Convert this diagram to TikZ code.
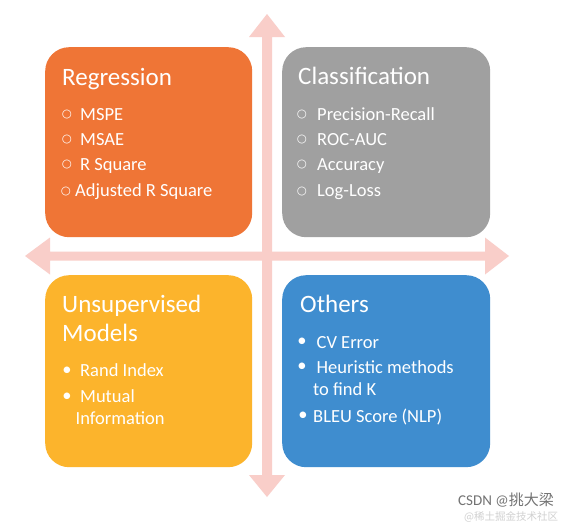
\documentclass[tikz,border=0pt]{standalone}
\usepackage{fontspec}
\setmainfont{Carlito}
\newfontfamily\symf{DejaVu Sans}
\newfontfamily\cjkf{Noto Sans CJK SC}
\definecolor{cOrange}{HTML}{EF7536}
\definecolor{cGray}{HTML}{A0A0A0}
\definecolor{cYellow}{HTML}{FCB42C}
\definecolor{cBlue}{HTML}{3F8DCF}
\definecolor{cPink}{HTML}{F9CEC9}
\begin{document}
\begin{tikzpicture}[x=1pt,y=-1pt,
  card/.style={rectangle, rounded corners=24pt, draw=none, anchor=north west,
               minimum width=207pt, minimum height=190pt, inner sep=0pt},
  ttl/.style={anchor=base west, text=white, font=\fontsize{25}{28}\selectfont, inner sep=0pt},
  itm/.style={anchor=base west, text=white, font=\fontsize{18.5}{22}\selectfont, inner sep=0pt},
  obul/.style={anchor=center, text=white, font=\symf\fontsize{11.5}{13}\selectfont, inner sep=0pt},
  dbul/.style={anchor=center, text=white, font=\fontsize{18.5}{22}\selectfont, inner sep=0pt},
  axis/.style={fill=cPink, draw=none}
]
\useasboundingbox (0,0) rectangle (573,522);
\fill[white] (0,0) rectangle (573,522);

% double arrows
\path[axis] (267,14) -- (285,37) -- (272,37) -- (272,475) -- (285,475) -- (267,497)
  -- (249,475) -- (262,475) -- (262,37) -- (249,37) -- cycle;
\path[axis] (25,256) -- (50,237.5) -- (50,251.5) -- (485,251.5) -- (485,237.5) -- (509,256)
  -- (485,274.5) -- (485,260.5) -- (50,260.5) -- (50,274.5) -- cycle;

% cards
\node[card, fill=cOrange] (reg) at (45,47) {};
\node[card, fill=cGray, minimum width=208pt] (cls) at (282,47) {};
\node[card, fill=cYellow, minimum height=192pt] (uns) at (45,275) {};
\node[card, fill=cBlue, minimum width=208pt, minimum height=192pt] (oth) at (282,275) {};

% Regression
\node[ttl] (regT) at (62,85) {Regression};
\node[obul] (rb1) at (67,115) {○};
\node[itm] (r1) at (80,120) {MSPE};
\node[obul] (rb2) at (67,140) {○};
\node[itm] (r2) at (80,145) {MSAE};
\node[obul] (rb3) at (67,165) {○};
\node[itm] (r3) at (80,170) {R Square};
\node[obul] (rb4) at (66,191.5) {○};
\node[itm] (r4) at (75,196.5) {Adjusted R Square};

% Classification
\node[ttl] (clsT) at (298,84) {Classification};
\node[obul] (cb1) at (302,115) {○};
\node[itm] (c1) at (317,120) {Precision-Recall};
\node[obul] (cb2) at (302,140) {○};
\node[itm] (c2) at (317,145) {ROC-AUC};
\node[obul] (cb3) at (302,165) {○};
\node[itm] (c3) at (317,170) {Accuracy};
\node[obul] (cb4) at (302,191.5) {○};
\node[itm] (c4) at (317,196.5) {Log-Loss};

% Unsupervised
\node[ttl] (unsT1) at (62,312.5) {Unsupervised};
\node[ttl] (unsT2) at (62,341) {Models};
\node[dbul] (ub1) at (67,371) {•};
\node[itm] (u1) at (80,376) {Rand Index};
\node[dbul] (ub2) at (67,397.5) {•};
\node[itm] (u2) at (80,402.5) {Mutual};
\node[itm] (u3) at (75.5,424) {Information};

% Others
\node[ttl] (othT) at (300,312.5) {Others};
\node[dbul] (ob1) at (302,342) {•};
\node[itm] (o1) at (316.5,348) {CV Error};
\node[dbul] (ob2) at (302,367) {•};
\node[itm] (o2) at (316.5,373) {Heuristic methods};
\node[itm] (o3) at (313,395) {to find K};
\node[dbul] (ob3) at (303,416) {•};
\node[itm] (o4) at (313,422) {BLEU Score (NLP)};

% watermark
\node[anchor=base west, inner sep=0pt, text=black!18, font=\cjkf\fontsize{10.5}{12}\selectfont] (wm2) at (464,520.5) {@稀土掘金技术社区};
\node[anchor=base west, inner sep=0pt, text=black!55, font=\fontsize{15}{17}\selectfont] (wm1) at (458,505.5) {CSDN @{\cjkf 挑大梁}};
\end{tikzpicture}
\end{document}
